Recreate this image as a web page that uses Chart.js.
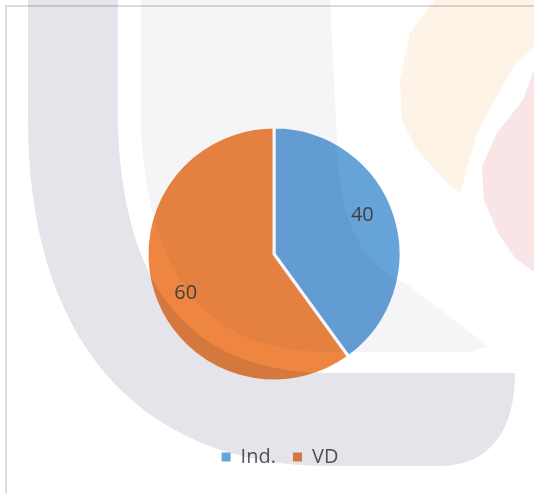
<!DOCTYPE html>
<html><head><meta charset="utf-8">
<script src="https://cdn.jsdelivr.net/npm/chart.js@4/dist/chart.umd.min.js"></script>
<style>html,body{margin:0;padding:0;background:#fff;overflow:hidden}</style>
</head><body>
<canvas id="c" width="534" height="493"></canvas>
<script>
const categories = ['Ind.', 'VD'];
const values = [40, 60];
const sliceColors = ['#66A3D9', '#EE8642'];

const FONT = '"Open Sans", "DejaVu Sans", sans-serif';

const backgroundPlugin = {
  id: 'bg',
  beforeDraw(chart) {
    const ctx = chart.ctx;
    ctx.save();
    ctx.fillStyle = '#ffffff';
    ctx.fillRect(0, 0, chart.width, chart.height);
    ctx.fillStyle = '#dcdcdc';
    ctx.fillRect(5, 5, chart.width - 5, 2);
    ctx.fillRect(5, 5, 2, chart.height - 5);
    ctx.restore();
  }
};

const watermarkPlugin = {
  id: 'watermark',
  afterDatasetsDraw(chart) {
    const ctx = chart.ctx;
    ctx.save();
    ctx.globalCompositeOperation = 'multiply';
    // light inner band
    ctx.fillStyle = '#f5f5f7';
    ctx.beginPath();
    ctx.moveTo(141, 0);
    ctx.lineTo(141, 130);
    ctx.bezierCurveTo(150, 290, 215, 352, 330, 352);
    ctx.lineTo(470, 352);
    ctx.lineTo(488, 346);
    ctx.lineTo(405, 283);
    ctx.quadraticCurveTo(345, 260, 338, 160);
    ctx.lineTo(330, 0);
    ctx.closePath();
    ctx.fill();
    // main grey U band
    ctx.fillStyle = '#e5e4ea';
    ctx.beginPath();
    ctx.moveTo(28, 0);
    ctx.lineTo(28, 120);
    ctx.bezierCurveTo(28, 330, 130, 466, 330, 466);
    ctx.lineTo(440, 466);
    ctx.bezierCurveTo(490, 466, 515, 430, 515, 373);
    ctx.lineTo(330, 373);
    ctx.bezierCurveTo(200, 373, 125, 300, 118, 130);
    ctx.lineTo(118, 0);
    ctx.closePath();
    ctx.fill();
    // faint orange leaf
    ctx.fillStyle = '#fef3e7';
    ctx.beginPath();
    ctx.moveTo(435, 0);
    ctx.lineTo(534, 0);
    ctx.lineTo(534, 47);
    ctx.lineTo(513, 67);
    ctx.lineTo(477, 133);
    ctx.lineTo(460, 193);
    ctx.lineTo(447, 183);
    ctx.lineTo(417, 150);
    ctx.lineTo(402, 120);
    ctx.lineTo(400, 80);
    ctx.lineTo(410, 33);
    ctx.closePath();
    ctx.fill();
    // faint pink shape
    ctx.fillStyle = '#f9e4e6';
    ctx.beginPath();
    ctx.moveTo(534, 70);
    ctx.lineTo(523, 100);
    ctx.lineTo(497, 133);
    ctx.lineTo(482, 167);
    ctx.lineTo(484, 200);
    ctx.lineTo(498, 233);
    ctx.lineTo(515, 258);
    ctx.lineTo(534, 272);
    ctx.closePath();
    ctx.fill();
    ctx.restore();
  }
};

const valueLabelPlugin = {
  id: 'valueLabels',
  afterDraw(chart) {
    const ctx = chart.ctx;
    const meta = chart.getDatasetMeta(0);
    ctx.save();
    ctx.font = '20px ' + FONT;
    ctx.fillStyle = '#404040';
    ctx.textAlign = 'center';
    ctx.textBaseline = 'middle';
    meta.data.forEach((arc, i) => {
      const p = arc.getProps(['x', 'y', 'startAngle', 'endAngle', 'outerRadius'], true);
      const mid = (p.startAngle + p.endAngle) / 2 - 0.1;
      const r = p.outerRadius * 0.76;
      ctx.fillText(String(chart.data.datasets[0].data[i]), p.x + Math.cos(mid) * r, p.y + Math.sin(mid) * r);
    });
    ctx.restore();
  }
};

const legendShiftPlugin = {
  id: 'legendShift',
  afterLayout(chart) {
    if (chart.legend) { chart.legend.left += 6; chart.legend.right += 6; }
  }
};

new Chart(document.getElementById('c'), {
  type: 'pie',
  data: {
    labels: categories,
    datasets: [{
      data: values,
      backgroundColor: sliceColors,
      borderColor: '#ffffff',
      borderWidth: 3,
      radius: 127
    }]
  },
  options: {
    responsive: false,
    animation: false,
    layout: { padding: { top: 78, left: 14, right: 0, bottom: 16 } },
    plugins: {
      tooltip: { enabled: false },
      legend: {
        position: 'bottom',
        labels: {
          boxWidth: 9,
          boxHeight: 9,
          padding: 17,
          color: '#595959',
          font: { family: FONT, size: 20 },
          generateLabels(chart) {
            const items = Chart.overrides.pie.plugins.legend.labels.generateLabels(chart);
            return items.map(it => Object.assign(it, { lineWidth: 0, strokeStyle: 'rgba(0,0,0,0)' }));
          }
        }
      }
    }
  },
  plugins: [backgroundPlugin, watermarkPlugin, valueLabelPlugin, legendShiftPlugin]
});
</script>
</body></html>
